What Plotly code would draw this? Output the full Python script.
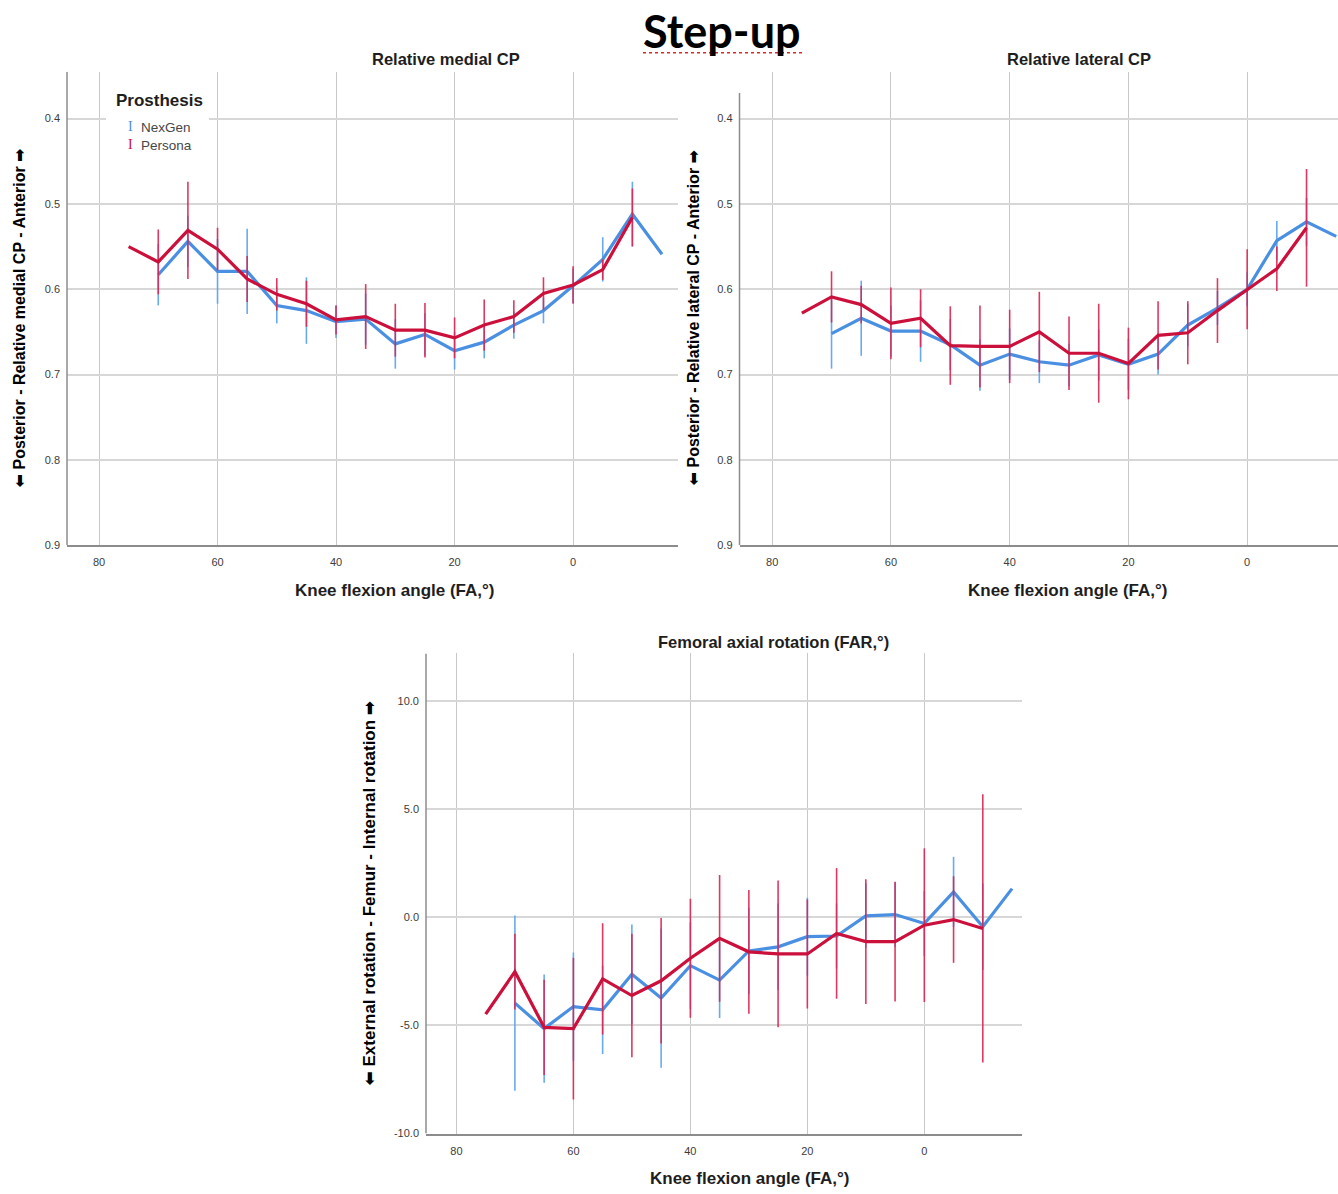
import plotly.graph_objects as go

W, H = 1338, 1194

# ---------------- data ----------------
fa_nexgen = [70, 65, 60, 55, 50, 45, 40, 35, 30, 25, 20, 15, 10, 5, 0, -5, -10, -15]
fa_persona = [75, 70, 65, 60, 55, 50, 45, 40, 35, 30, 25, 20, 15, 10, 5, 0, -5, -10]

medial_nexgen = [0.583, 0.544, 0.579, 0.579, 0.619, 0.625, 0.638, 0.635, 0.664, 0.653,
                 0.672, 0.662, 0.642, 0.625, 0.596, 0.565, 0.512, 0.559]
medial_nexgen_ci = [0.036, 0.030, 0.038, 0.050, 0.021, 0.039, 0.019, 0.030, 0.029, 0.025,
                    0.022, 0.019, 0.016, 0.015, 0.020, 0.026, 0.038, 0.0]
medial_persona = [0.550, 0.568, 0.531, 0.553, 0.588, 0.606, 0.617, 0.636, 0.632, 0.648,
                  0.648, 0.657, 0.642, 0.632, 0.605, 0.595, 0.577, 0.516]
medial_persona_ci = [0.0, 0.038, 0.057, 0.025, 0.027, 0.019, 0.027, 0.017, 0.038, 0.031,
                     0.032, 0.024, 0.030, 0.019, 0.019, 0.022, 0.012, 0.034]

lateral_nexgen = [0.652, 0.634, 0.649, 0.649, 0.665, 0.689, 0.676, 0.685, 0.689, 0.677,
                  0.688, 0.676, 0.642, 0.622, 0.600, 0.543, 0.521, 0.538]
lateral_nexgen_ci = [0.041, 0.044, 0.030, 0.036, 0.030, 0.030, 0.030, 0.025, 0.025, 0.030,
                     0.030, 0.024, 0.025, 0.020, 0.020, 0.023, 0.028, 0.0]
lateral_persona = [0.628, 0.609, 0.618, 0.640, 0.634, 0.666, 0.667, 0.667, 0.650, 0.675,
                   0.675, 0.687, 0.654, 0.651, 0.625, 0.600, 0.576, 0.528]
lateral_persona_ci = [0.0, 0.030, 0.022, 0.042, 0.034, 0.046, 0.048, 0.043, 0.047, 0.043,
                      0.058, 0.042, 0.040, 0.037, 0.038, 0.047, 0.026, 0.069]

far_nexgen = [-3.97, -5.15, -4.13, -4.28, -2.64, -3.74, -2.24, -2.91, -1.56, -1.37,
              -0.90, -0.87, 0.06, 0.12, -0.29, 1.17, -0.44, 1.32]
far_nexgen_ci = [4.05, 2.50, 2.50, 2.04, 2.30, 3.22, 2.00, 1.75, 2.00, 2.00,
                 1.80, 1.50, 1.50, 1.50, 1.50, 1.62, 2.00, 0.0]
far_persona = [-4.48, -2.52, -5.09, -5.15, -2.85, -3.62, -2.94, -1.90, -0.98, -1.60,
               -1.70, -1.70, -0.75, -1.13, -1.13, -0.37, -0.11, -0.52]
far_persona_ci = [0.0, 1.75, 2.20, 3.27, 2.57, 2.85, 2.90, 2.75, 2.93, 2.86,
                  3.39, 2.52, 3.02, 2.88, 2.77, 3.55, 2.00, 6.20]

x_ticks = [80, 60, 40, 20, 0]
cp_ticks = [0.4, 0.5, 0.6, 0.7, 0.8, 0.9]
cp_ticklabels = ["0.4", "0.5", "0.6", "0.7", "0.8", "0.9"]
far_ticks = [10.0, 5.0, 0.0, -5.0, -10.0]
far_ticklabels = ["10.0", "5.0", "0.0", "-5.0", "-10.0"]

series_names = ["NexGen", "Persona"]

# ---------------- style ----------------
BLUE = "rgb(74,144,226)"
BLUE_BAR = "rgba(95,165,238,0.95)"
RED = "rgb(204,16,60)"
RED_BAR = "rgba(220,35,80,0.9)"
FONT = "Liberation Sans"


def px(x):
    return x / W


def py(y):
    return 1 - y / H


fig = go.Figure()

panels = [
    ("x", "y", medial_nexgen, medial_nexgen_ci, medial_persona, medial_persona_ci),
    ("x2", "y2", lateral_nexgen, lateral_nexgen_ci, lateral_persona, lateral_persona_ci),
    ("x3", "y3", far_nexgen, far_nexgen_ci, far_persona, far_persona_ci),
]

for xa, ya, nv, nci, pv, pci in panels:
    fig.add_trace(go.Scatter(
        x=fa_nexgen, y=nv, mode="lines", name=series_names[0], showlegend=False,
        xaxis=xa, yaxis=ya, line=dict(color=BLUE, width=3.2),
        error_y=dict(type="data", array=nci, visible=True, thickness=1.6, width=0, color=BLUE_BAR),
    ))
    fig.add_trace(go.Scatter(
        x=fa_persona, y=pv, mode="lines", name=series_names[1], showlegend=False,
        xaxis=xa, yaxis=ya, line=dict(color=RED, width=3.2),
        error_y=dict(type="data", array=pci, visible=True, thickness=1.6, width=0, color=RED_BAR),
    ))

GRID_V = "rgb(200,200,200)"
GRID_H = "rgb(215,215,215)"
AXIS = "rgb(140,140,140)"
TICKFONT = dict(family=FONT, size=11, color="rgb(60,60,60)")

xcommon = dict(tickvals=x_ticks, ticktext=[str(v) for v in x_ticks], showgrid=True,
               gridcolor=GRID_V, gridwidth=1, zeroline=False, showline=True,
               linecolor=AXIS, linewidth=2, ticks="", tickfont=TICKFONT, ticklabelstandoff=6)
ycommon = dict(showgrid=True, gridcolor=GRID_H, gridwidth=2, zeroline=False,
               showline=False, ticks="", tickfont=TICKFONT, ticklabelstandoff=6)

fig.update_layout(
    width=W, height=H, margin=dict(l=0, r=0, t=0, b=0),
    paper_bgcolor="white", plot_bgcolor="white", showlegend=False,
    xaxis=dict(domain=[px(67), px(678)], range=[85.4, -17.7], anchor="y", **xcommon),
    yaxis=dict(domain=[py(548), py(72)], range=[0.9, 0.345], anchor="x",
               tickvals=cp_ticks, ticktext=cp_ticklabels, **ycommon),
    xaxis2=dict(domain=[px(739.5), 1.0], range=[85.5, -15.3], anchor="y2", **xcommon),
    yaxis2=dict(domain=[py(548), py(72)], range=[0.9, 0.345], anchor="x2",
                tickvals=cp_ticks, ticktext=cp_ticklabels, **ycommon),
    xaxis3=dict(domain=[px(426), px(1022)], range=[85.2, -16.7], anchor="y3", **xcommon),
    yaxis3=dict(domain=[py(1139.3), py(656.7)], range=[-10.0, 12.19], anchor="x3",
                tickvals=far_ticks, ticktext=far_ticklabels, **ycommon),
)

# y-axis lines
shapes = [
    dict(type="line", xref="x domain", yref="y", x0=0, x1=0, y0=0.9, y1=0.345,
         line=dict(color=AXIS, width=1.5)),
    dict(type="line", xref="x2 domain", yref="y2", x0=0, x1=0, y0=0.9, y1=0.37,
         line=dict(color=AXIS, width=1.5)),
    dict(type="line", xref="x3 domain", yref="y3", x0=0, x1=0, y0=-10.0, y1=12.19,
         line=dict(color=AXIS, width=1.5)),
    # legend background
    dict(type="rect", xref="paper", yref="paper", x0=px(106), x1=px(209), y0=py(156), y1=py(88),
         fillcolor="white", line=dict(width=0), layer="above"),
    # spell-check underline of the title
    dict(type="line", xref="paper", yref="paper", x0=px(643), x1=px(803), y0=py(53), y1=py(53),
         line=dict(color="rgb(220,40,40)", width=1.5, dash="dot")),
]
fig.update_layout(shapes=shapes)

ann = []


def text(x, y, s, size, bold=False, color="black", xanchor="center", angle=0, family=FONT):
    ann.append(dict(x=px(x), y=py(y), xref="paper", yref="paper", text=s, showarrow=False,
                    xanchor=xanchor, yanchor="middle", textangle=angle,
                    font=dict(family=family, size=size, color=color,
                              weight="bold" if bold else "normal")))


def arrow(ch):
    return '<span style="font-family:DejaVu Sans;font-weight:bold">' + ch + '</span>'


LEFT_ARROW = arrow("⬅")
RIGHT_ARROW = arrow("➡")

DARK = "rgb(30,30,30)"
text(722, 31, "Step-up", 45, bold=True, family="Lato")
text(446, 59, "Relative medial CP", 16.5, bold=True, color=DARK)
text(1079, 59, "Relative lateral CP", 16.5, bold=True, color=DARK)
text(773, 645, "Femoral axial rotation (FAR,°)", 16.5, bold=True, color=DARK)
text(395, 593, "Knee flexion angle (FA,°)", 17, bold=True, color=DARK)
text(1068, 593, "Knee flexion angle (FA,°)", 17, bold=True, color=DARK)
text(750, 1184, "Knee flexion angle (FA,°)", 17, bold=True, color=DARK)
text(19, 320, LEFT_ARROW + " Posterior - Relative medial CP - Anterior " + RIGHT_ARROW, 16, bold=True, angle=-90)
text(693, 320, LEFT_ARROW + " Posterior - Relative lateral CP - Anterior " + RIGHT_ARROW, 16, bold=True, angle=-90)
text(369, 898, LEFT_ARROW + " External rotation - Femur - Internal rotation " + RIGHT_ARROW, 17, bold=True, angle=-90)

# legend
text(114, 101, "Prosthesis", 17, bold=True, color=DARK, xanchor="left")
text(130, 127, "I", 14, color=BLUE, family="Liberation Serif")
text(130, 145, "I", 14, color=RED, family="Liberation Serif")
text(139, 128, series_names[0], 13.5, color="rgb(70,70,70)", xanchor="left")
text(139, 146, series_names[1], 13.5, color="rgb(70,70,70)", xanchor="left")

fig.update_layout(annotations=ann)

fig.write_html("out.html", config={"displayModeBar": False},
               post_script="document.body.style.margin='0px';")
